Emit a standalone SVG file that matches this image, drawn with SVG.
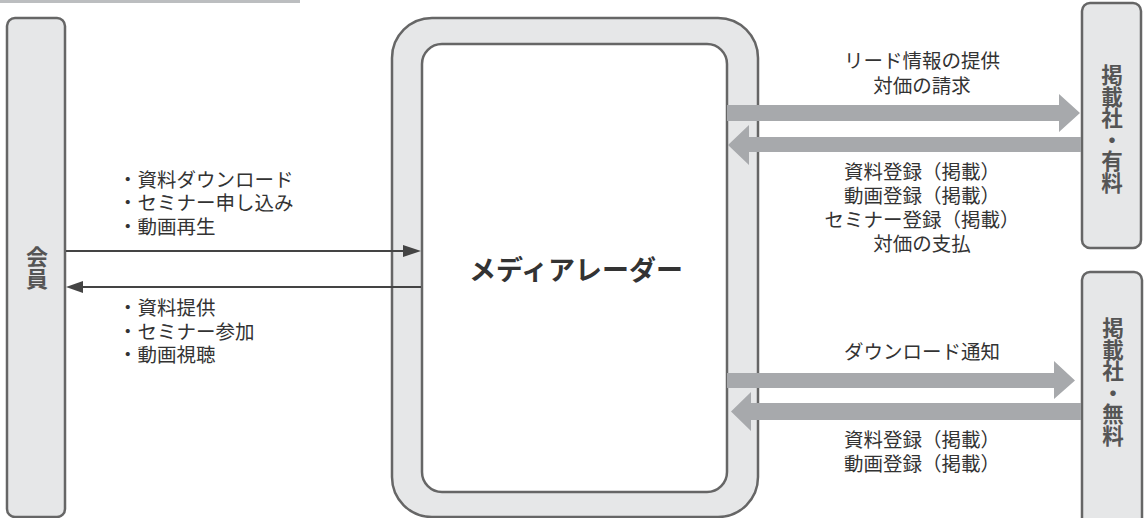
<svg xmlns="http://www.w3.org/2000/svg" width="1144" height="518" viewBox="0 0 1144 518">
<style>
.box{fill:#e6e7e8;stroke:#666;stroke-width:2.5}
.inner{fill:#fff;stroke:#666;stroke-width:2.5}
.big{fill:#a7a9ac}
.thin{stroke:#444;stroke-width:2.2;fill:none}
.head{fill:#444}
.lbl{font-family:"Noto Sans CJK JP","Noto Sans",sans-serif;font-size:19.5px;fill:#333}
.vt{font-family:"Noto Sans CJK JP",sans-serif;font-weight:bold;fill:#555;writing-mode:vertical-rl;text-anchor:middle}
.title{font-family:"Noto Sans CJK JP",sans-serif;font-weight:bold;font-size:27px;fill:#333;text-anchor:middle}
</style>
<rect x="0" y="0" width="300" height="3" fill="#bcbec0"/>
<g id="member">
<rect class="box" x="7" y="18" width="58" height="499" rx="8"/>
<text class="vt" x="37" y="268" font-size="22">会員</text>
</g>
<g id="mediareader">
<rect class="box" x="392" y="18" width="366" height="499" rx="40"/>
<rect class="inner" x="422" y="44" width="305" height="448" rx="20"/>
<text class="title" x="576" y="280">メディアレーダー</text>
</g>
<g id="paid">
<rect class="box" x="1082" y="3" width="59" height="245" rx="8"/>
<text class="vt" x="1112" y="129" font-size="21.5">掲載社・有料</text>
</g>
<g id="free">
<rect class="box" x="1082" y="272" width="60" height="260" rx="8"/>
<text class="vt" x="1113" y="382" font-size="21.5">掲載社・無料</text>
</g>
<g id="connectors">
<line class="thin" x1="66" y1="251" x2="405" y2="251"/>
<polygon class="head" points="403,245 421,251 403,257"/>
<line class="thin" x1="81" y1="287" x2="421" y2="287"/>
<polygon class="head" points="83,281 66,287 83,293"/>
<polygon class="big" points="727,105 1059,105 1059,94 1080,113 1059,132 1059,121 727,121"/>
<polygon class="big" points="1081,137 749,137 749,125 728,145 749,165 749,152 1081,152"/>
<polygon class="big" points="727,373 1054,373 1054,361 1075,380.5 1054,399 1054,388 727,388"/>
<polygon class="big" points="1081,403 751,403 751,392 731,411.5 751,431 751,420 1081,420"/>
</g>
<g id="labels">
<text class="lbl" x="118" y="187">・資料ダウンロード</text>
<text class="lbl" x="118" y="210">・セミナー申し込み</text>
<text class="lbl" x="118" y="234">・動画再生</text>
<text class="lbl" x="118" y="315">・資料提供</text>
<text class="lbl" x="118" y="339">・セミナー参加</text>
<text class="lbl" x="118" y="362">・動画視聴</text>
<g text-anchor="middle">
<text class="lbl" x="922" y="68">リード情報の提供</text>
<text class="lbl" x="922" y="93">対価の請求</text>
<text class="lbl" x="922" y="179">資料登録（掲載）</text>
<text class="lbl" x="922" y="203">動画登録（掲載）</text>
<text class="lbl" x="922" y="227">セミナー登録（掲載）</text>
<text class="lbl" x="922" y="251">対価の支払</text>
<text class="lbl" x="922" y="359">ダウンロード通知</text>
<text class="lbl" x="922" y="447">資料登録（掲載）</text>
<text class="lbl" x="922" y="471">動画登録（掲載）</text>
</g>
</g>
</svg>
